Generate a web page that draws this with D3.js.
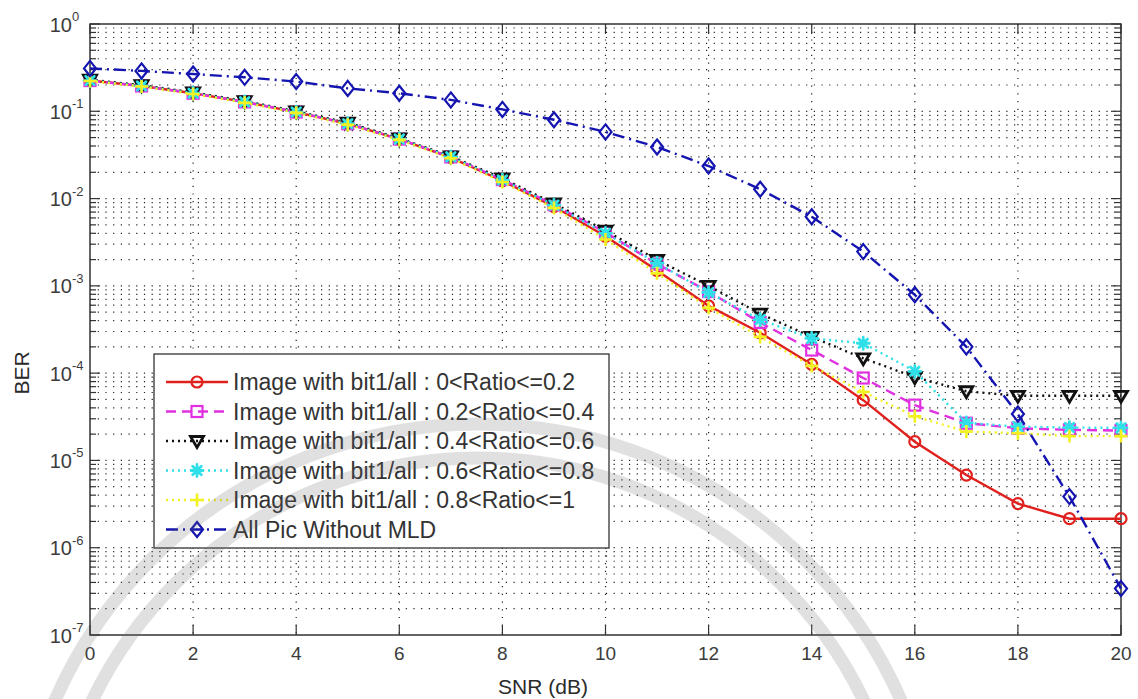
<!DOCTYPE html>
<html>
<head>
<meta charset="utf-8">
<script src="https://cdn.jsdelivr.net/npm/d3@7"></script>
<style>
  html, body { margin: 0; padding: 0; background: #fff; }
  svg { display: block; font-family: "Liberation Sans", Arial, sans-serif; }
</style>
</head>
<body>
<svg id="chart" width="1138" height="699"></svg>
<script>
// SNR points (dB)
const snrDb = [0, 1, 2, 3, 4, 5, 6, 7, 8, 9, 10, 11, 12, 13, 14, 15, 16, 17, 18, 19, 20];
const xTicks = [0, 2, 4, 6, 8, 10, 12, 14, 16, 18, 20];
const yExponents = [0, -1, -2, -3, -4, -5, -6, -7];

// BER per ratio class
const berRatio00to02 = [0.225, 0.195, 0.161, 0.128, 0.098, 0.072, 0.048, 0.0295, 0.0160, 0.0081, 0.0037, 0.00150, 5.9e-4, 2.9e-4, 1.26e-4, 4.9e-5, 1.64e-5, 6.8e-6, 3.2e-6, 2.15e-6, 2.15e-6];
const berRatio02to04 = [0.225, 0.195, 0.161, 0.128, 0.098, 0.072, 0.048, 0.030, 0.0165, 0.0085, 0.0041, 0.00178, 8.6e-4, 3.8e-4, 1.84e-4, 8.8e-5, 4.3e-5, 2.67e-5, 2.34e-5, 2.24e-5, 2.2e-5];
const berRatio04to06 = [0.230, 0.199, 0.165, 0.131, 0.100, 0.074, 0.049, 0.0305, 0.0170, 0.0088, 0.0043, 0.00198, 1.0e-3, 4.8e-4, 2.6e-4, 1.48e-4, 9.0e-5, 6.2e-5, 5.5e-5, 5.5e-5, 5.5e-5];
const berRatio06to08 = [0.225, 0.195, 0.161, 0.128, 0.098, 0.072, 0.048, 0.030, 0.0163, 0.0084, 0.0040, 0.00182, 8.4e-4, 4.1e-4, 2.5e-4, 2.2e-4, 1.05e-4, 2.7e-5, 2.44e-5, 2.38e-5, 2.36e-5];
const berRatio08to10 = [0.222, 0.192, 0.158, 0.125, 0.096, 0.070, 0.047, 0.029, 0.0155, 0.0078, 0.0034, 0.00139, 5.6e-4, 2.6e-4, 1.21e-4, 6.1e-5, 3.2e-5, 2.14e-5, 2.05e-5, 1.9e-5, 1.9e-5];
const berNoMld = [0.31, 0.29, 0.267, 0.245, 0.219, 0.183, 0.161, 0.135, 0.105, 0.080, 0.058, 0.039, 0.0236, 0.0128, 0.0062, 0.00247, 7.9e-4, 2.0e-4, 3.4e-5, 3.85e-6, 3.4e-7];

const seriesNames = [
  "Image with bit1/all : 0<Ratio<=0.2",
  "Image with bit1/all : 0.2<Ratio<=0.4",
  "Image with bit1/all : 0.4<Ratio<=0.6",
  "Image with bit1/all : 0.6<Ratio<=0.8",
  "Image with bit1/all : 0.8<Ratio<=1",
  "All Pic Without MLD"
];

const series = [
  { name: seriesNames[0], values: berRatio00to02, color: "#e0201c", dash: null,          marker: "circle" },
  { name: seriesNames[1], values: berRatio02to04, color: "#e030e0", dash: "10,6",        marker: "square" },
  { name: seriesNames[2], values: berRatio04to06, color: "#111111", dash: "2,4",         marker: "triangleDown" },
  { name: seriesNames[3], values: berRatio06to08, color: "#30e0e8", dash: "2,4",         marker: "asterisk" },
  { name: seriesNames[4], values: berRatio08to10, color: "#f2f222", dash: "2,4",         marker: "plus" },
  { name: seriesNames[5], values: berNoMld,       color: "#1414b0", dash: "12,5,2,5",    marker: "diamond" }
];

const svg = d3.select("#chart");
const plot = { left: 90, right: 1121, top: 24, bottom: 635 };

const x = d3.scaleLinear().domain([0, 20]).range([plot.left, plot.right]);
const y = d3.scaleLog().domain([1e-7, 1]).range([plot.bottom, plot.top]);

// Grid: vertical dotted lines at major x ticks
const grid = svg.append("g").attr("class", "grid");
xTicks.slice(1, -1).forEach(t => {
  grid.append("line")
    .attr("x1", x(t)).attr("x2", x(t))
    .attr("y1", plot.top).attr("y2", plot.bottom)
    .attr("stroke", "#222").attr("stroke-width", 1.2)
    .attr("stroke-dasharray", "1.2,6.5");
});
// Horizontal dotted lines at every decade and every minor step
const yGridVals = [];
for (let e = -7; e < 0; e++) {
  for (let m = 1; m <= 9; m++) yGridVals.push(m * Math.pow(10, e));
}
yGridVals.forEach(v => {
  if (v <= 1e-7 * 1.0001) return;
  grid.append("line")
    .attr("x1", plot.left).attr("x2", plot.right)
    .attr("y1", y(v)).attr("y2", y(v))
    .attr("stroke", "#222").attr("stroke-width", 1.2)
    .attr("stroke-dasharray", "1.2,6.5");
});

// Axis ticks (inward on all four sides)
const axes = svg.append("g").attr("class", "axes");
const tickColor = "#333";
xTicks.forEach(t => {
  axes.append("line").attr("x1", x(t)).attr("x2", x(t)).attr("y1", plot.bottom).attr("y2", plot.bottom - 10)
    .attr("stroke", tickColor).attr("stroke-width", 1.2);
  axes.append("line").attr("x1", x(t)).attr("x2", x(t)).attr("y1", plot.top).attr("y2", plot.top + 10)
    .attr("stroke", tickColor).attr("stroke-width", 1.2);
});
yGridVals.concat([1]).forEach(v => {
  const isMajor = Math.abs(Math.log10(v) - Math.round(Math.log10(v))) < 1e-9;
  const len = isMajor ? 10 : 6;
  axes.append("line").attr("x1", plot.left).attr("x2", plot.left + len).attr("y1", y(v)).attr("y2", y(v))
    .attr("stroke", tickColor).attr("stroke-width", 1.2);
  axes.append("line").attr("x1", plot.right).attr("x2", plot.right - len).attr("y1", y(v)).attr("y2", y(v))
    .attr("stroke", tickColor).attr("stroke-width", 1.2);
});

// Frame
svg.append("rect")
  .attr("x", plot.left).attr("y", plot.top)
  .attr("width", plot.right - plot.left).attr("height", plot.bottom - plot.top)
  .attr("fill", "none").attr("stroke", "#333").attr("stroke-width", 1.5);

// Tick labels
const labelColor = "#3c3c3c";
xTicks.forEach(t => {
  svg.append("text")
    .attr("x", x(t)).attr("y", plot.bottom + 25)
    .attr("text-anchor", "middle").attr("font-size", 19).attr("fill", labelColor)
    .text(t);
});
yExponents.forEach(e => {
  const yy = y(Math.pow(10, e));
  svg.append("text")
    .attr("x", 72).attr("y", yy + 7.5)
    .attr("text-anchor", "end").attr("font-size", 20).attr("fill", labelColor)
    .text("10");
  svg.append("text")
    .attr("x", 72).attr("y", yy - 3)
    .attr("text-anchor", "start").attr("font-size", 13).attr("fill", labelColor)
    .text(e === 0 ? "0" : "-" + Math.abs(e));
});

// Axis titles
svg.append("text")
  .attr("x", 543).attr("y", 694)
  .attr("text-anchor", "middle").attr("font-size", 21).attr("fill", "#2a2a2a")
  .text("SNR (dB)");
svg.append("text")
  .attr("transform", "translate(29,373) rotate(-90)")
  .attr("text-anchor", "middle").attr("font-size", 21).attr("fill", "#2a2a2a")
  .text("BER");

// Marker drawing helper
function drawMarker(g, type, cx, cy, color) {
  const sw = 2.2;
  if (type === "circle") {
    g.append("circle").attr("cx", cx).attr("cy", cy).attr("r", 5.5)
      .attr("fill", "none").attr("stroke", color).attr("stroke-width", sw);
  } else if (type === "square") {
    g.append("rect").attr("x", cx - 5.5).attr("y", cy - 5.5).attr("width", 11).attr("height", 11)
      .attr("fill", "none").attr("stroke", color).attr("stroke-width", sw);
  } else if (type === "triangleDown") {
    g.append("path").attr("d", `M${cx - 6.5},${cy - 4.5}L${cx + 6.5},${cy - 4.5}L${cx},${cy + 6.5}Z`)
      .attr("fill", "none").attr("stroke", color).attr("stroke-width", 2.8);
  } else if (type === "asterisk") {
    const r = 6;
    const d = r * 0.72;
    g.append("path")
      .attr("d", `M${cx - r},${cy}L${cx + r},${cy}M${cx},${cy - r}L${cx},${cy + r}M${cx - d},${cy - d}L${cx + d},${cy + d}M${cx - d},${cy + d}L${cx + d},${cy - d}`)
      .attr("fill", "none").attr("stroke", color).attr("stroke-width", 2.8).attr("stroke-linecap", "round");
  } else if (type === "plus") {
    const r = 6.5;
    g.append("path")
      .attr("d", `M${cx - r},${cy}L${cx + r},${cy}M${cx},${cy - r}L${cx},${cy + r}`)
      .attr("fill", "none").attr("stroke", color).attr("stroke-width", 2.6);
  } else if (type === "diamond") {
    g.append("path").attr("d", `M${cx},${cy - 7.5}L${cx + 6},${cy}L${cx},${cy + 7.5}L${cx - 6},${cy}Z`)
      .attr("fill", "none").attr("stroke", color).attr("stroke-width", sw);
  }
}

// Data series
const line = d3.line().x((d, i) => x(snrDb[i])).y(d => y(d));
const dataG = svg.append("g").attr("class", "series");
series.forEach(s => {
  const g = dataG.append("g");
  g.append("path")
    .datum(s.values)
    .attr("d", line)
    .attr("fill", "none")
    .attr("stroke", s.color)
    .attr("stroke-width", 2.4)
    .attr("stroke-dasharray", s.dash);
  s.values.forEach((v, i) => drawMarker(g, s.marker, x(snrDb[i]), y(v), s.color));
});

// Legend
const legend = svg.append("g").attr("class", "legend");
legend.append("rect")
  .attr("x", 154).attr("y", 354).attr("width", 455).attr("height", 194)
  .attr("fill", "#fff").attr("stroke", "#333").attr("stroke-width", 1.3);
series.forEach((s, i) => {
  const ly = 382 + i * 29.5;
  legend.append("line")
    .attr("x1", 166).attr("x2", 228).attr("y1", ly).attr("y2", ly)
    .attr("stroke", s.color).attr("stroke-width", 2.4)
    .attr("stroke-dasharray", s.dash);
  drawMarker(legend, s.marker, 197, ly, s.color);
  legend.append("text")
    .attr("x", 233).attr("y", ly + 8)
    .attr("font-size", 23).attr("fill", "#333")
    .text(s.name);
});

// Faint ring watermark laid over the page
const wm = svg.append("g").attr("opacity", 0.2).style("pointer-events", "none");
[462, 428].forEach(r => {
  wm.append("circle")
    .attr("cx", 478).attr("cy", 886).attr("r", r)
    .attr("fill", "none").attr("stroke", "#6a6a6a").attr("stroke-width", 13);
});
</script>
</body>
</html>
